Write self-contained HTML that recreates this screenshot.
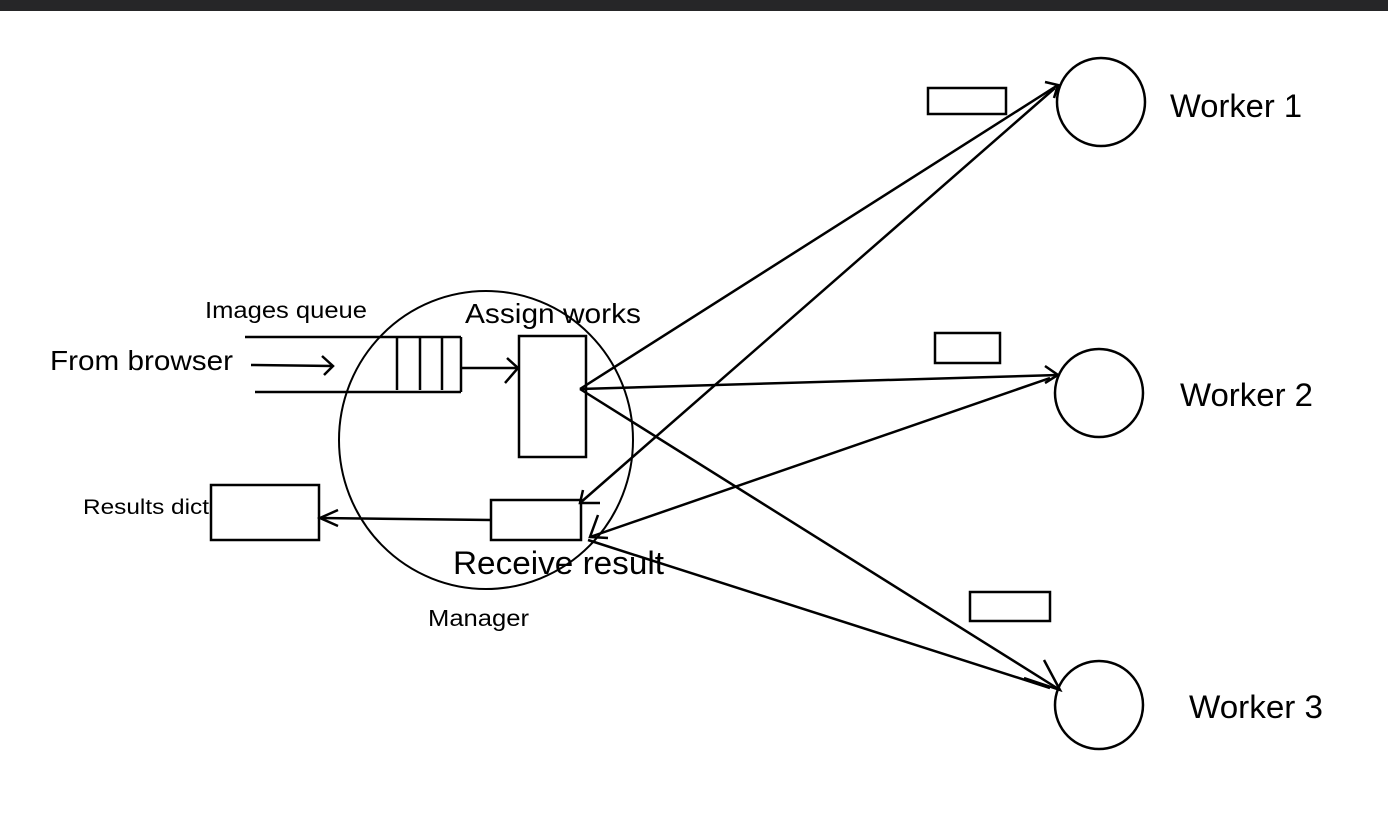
<!DOCTYPE html>
<html><head><style>
body{margin:0;width:1388px;height:834px;background:#fff;overflow:hidden}
</style></head><body>
<svg width="1388" height="834" xmlns="http://www.w3.org/2000/svg" style="position:absolute;left:0;top:0;font-family:'Liberation Sans',sans-serif">
<rect x="0" y="0" width="1388" height="11" fill="#262628"/>
<g fill="none" stroke="#000" stroke-width="2.5">
<ellipse cx="486" cy="440" rx="147" ry="149" stroke-width="2"/>
<line x1="245" y1="337" x2="461" y2="337"/>
<line x1="255" y1="392" x2="461" y2="392"/>
<line x1="397" y1="337" x2="397" y2="390"/>
<line x1="420" y1="337" x2="420" y2="390"/>
<line x1="442" y1="337" x2="442" y2="390"/>
<line x1="461" y1="337" x2="461" y2="392"/>
<line x1="251" y1="365" x2="333" y2="366"/>
<path d="M322 356 L333 366 L324 375"/>
<line x1="461" y1="368" x2="518" y2="368"/>
<path d="M507 358 L518 368 L505 383"/>
<rect x="519" y="336" width="67" height="121"/>
<rect x="491" y="500" width="90" height="40"/>
<rect x="211" y="485" width="108" height="55"/>
<path d="M491 520 L320 518"/>
<path d="M338 510 L320 518 L338 526"/>
<circle cx="1101" cy="102" r="44"/>
<circle cx="1099" cy="393" r="44"/>
<circle cx="1099" cy="705" r="44"/>
<rect x="928" y="88" width="78" height="26"/>
<rect x="935" y="333" width="65" height="30"/>
<rect x="970" y="592" width="80" height="29"/>
<line x1="580" y1="389" x2="1058" y2="85"/>
<path d="M1045 82 L1058 85 L1054 98"/>
<line x1="1055" y1="88" x2="580" y2="503"/>
<path d="M583 490 L580 503 L600 503"/>
<line x1="580" y1="389" x2="1058" y2="375"/>
<path d="M1045 366 L1058 375 L1045 383"/>
<line x1="1050" y1="378" x2="590" y2="537"/>
<path d="M598 515 L590 537 L608 538"/>
<line x1="580" y1="389" x2="1060" y2="690"/>
<path d="M1044 660 L1060 690 L1024 678"/>
<line x1="1050" y1="688" x2="588" y2="540"/>
</g>
<g fill="#000">
<text x="205" y="318" font-size="23" textLength="162" lengthAdjust="spacingAndGlyphs">Images queue</text>
<text x="50" y="370" font-size="28" textLength="183" lengthAdjust="spacingAndGlyphs">From browser</text>
<text x="465" y="323" font-size="28" textLength="176" lengthAdjust="spacingAndGlyphs">Assign works</text>
<text x="83" y="514" font-size="21" textLength="126" lengthAdjust="spacingAndGlyphs">Results dict</text>
<text x="453" y="574" font-size="32" textLength="211" lengthAdjust="spacingAndGlyphs">Receive result</text>
<text x="428" y="626" font-size="23" textLength="101" lengthAdjust="spacingAndGlyphs">Manager</text>
<text x="1170" y="117" font-size="32" textLength="132" lengthAdjust="spacingAndGlyphs">Worker 1</text>
<text x="1180" y="406" font-size="32" textLength="133" lengthAdjust="spacingAndGlyphs">Worker 2</text>
<text x="1189" y="718" font-size="32" textLength="134" lengthAdjust="spacingAndGlyphs">Worker 3</text>
</g>
</svg>
</body></html>
